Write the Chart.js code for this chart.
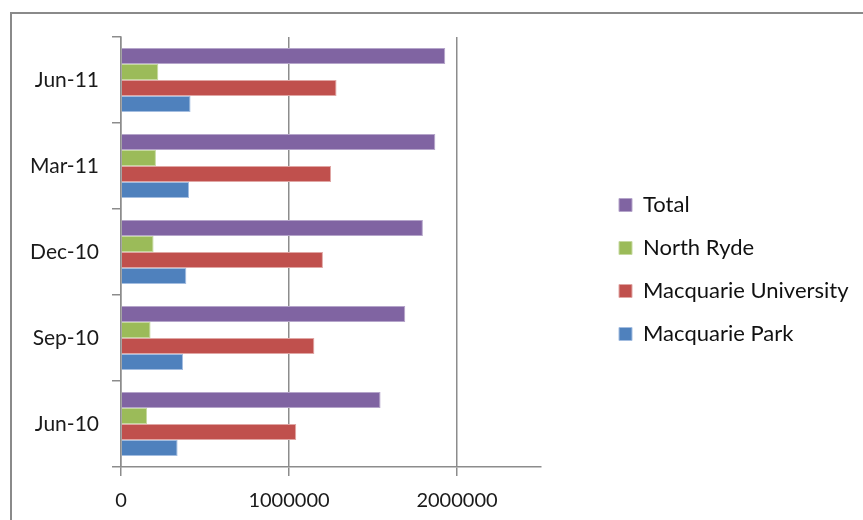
<!DOCTYPE html>
<html>
<head>
<meta charset="utf-8">
<script src="https://cdn.jsdelivr.net/npm/chart.js@4"></script>
<style>
  html, body { margin: 0; padding: 0; background: #fff; }
  #wrap { position: relative; width: 863px; height: 520px; overflow: hidden; }
  #frame { position: absolute; left: 10px; top: 12px; width: 900px; height: 600px; border: 2px solid #8a8a8a; box-sizing: border-box; }
  canvas { position: absolute; left: 0; top: 0; }
</style>
</head>
<body>
<div id="wrap">
  <div id="frame"></div>
  <canvas id="chart" width="863" height="520"></canvas>
</div>
<script>
const quarters = ['Jun-10', 'Sep-10', 'Dec-10', 'Mar-11', 'Jun-11'];
const total = [1545000, 1692000, 1797000, 1871000, 1930000];
const northRyde = [155000, 176000, 194000, 208000, 222000];
const macquarieUni = [1043000, 1151000, 1202000, 1250000, 1283000];
const macquariePark = [337000, 369000, 389000, 405000, 414000];
const xMax = 2500000;
const xTickValues = [0, 1000000, 2000000];

const FONT = 'Lato, "Open Sans", sans-serif';
const GRID = '#8c8c8c';

// legend: reserve a fixed width on the right and put the column where Excel has it
const legendFix = {
  id: 'legendFix',
  beforeLayout(chart) {
    const l = chart.legend;
    if (l && !l._fixed) {
      const fit = l.fit.bind(l);
      l.fit = function () { this.maxWidth = 863; fit(); this.width = 322; };
      l._fixed = true;
    }
  },
  afterLayout(chart) {
    const l = chart.legend;
    const dx = 619 - (l.left + l.options.labels.padding);
    l.left += dx; l.right += dx;
    l.top -= 9; l.bottom -= 9;
  },
};

new Chart(document.getElementById('chart'), {
  type: 'bar',
  data: {
    labels: quarters,
    datasets: [
      { label: 'Total', data: total, backgroundColor: '#8064A2', borderColor: '#b5a5ca', borderWidth: 1 },
      { label: 'North Ryde', data: northRyde, backgroundColor: '#9BBB59', borderColor: '#c6d9a0', borderWidth: 1 },
      { label: 'Macquarie University', data: macquarieUni, backgroundColor: '#C0504D', borderColor: '#e0a6a4', borderWidth: 1 },
      { label: 'Macquarie Park', data: macquariePark, backgroundColor: '#4F81BD', borderColor: '#a3bde0', borderWidth: 1 },
    ],
  },
  options: {
    indexAxis: 'y',
    responsive: false,
    animation: false,
    categoryPercentage: 0.744,
    barPercentage: 1,
    layout: { padding: { top: 37, left: 0, right: 0, bottom: 0 } },
    plugins: {
      tooltip: { enabled: false },
      legend: {
        position: 'right',
        labels: { boxWidth: 13, boxHeight: 13, padding: 21, color: '#111', font: { family: FONT, size: 22 } },
      },
    },
    scales: {
      y: {
        reverse: true,
        afterFit: s => { s.width = 121; },
        grid: { display: true, drawOnChartArea: false, tickLength: 9, color: GRID, lineWidth: 1.5 },
        border: { color: GRID, width: 1.5 },
        ticks: { padding: 13, color: '#1a1a1a', font: { family: FONT, size: 21 } },
      },
      x: {
        min: 0,
        max: xMax,
        afterFit: s => { s.height = 53; },
        afterBuildTicks: s => { s.ticks = xTickValues.map(v => ({ value: v })); },
        grid: { color: GRID, tickLength: 9, lineWidth: 1.5 },
        border: { color: GRID, width: 1.5 },
        ticks: {
          padding: 13,
          maxRotation: 0,
          color: '#1a1a1a',
          font: { family: FONT, size: 20 },
          callback: v => String(v),
        },
      },
    },
  },
  plugins: [legendFix],
});
</script>
</body>
</html>
